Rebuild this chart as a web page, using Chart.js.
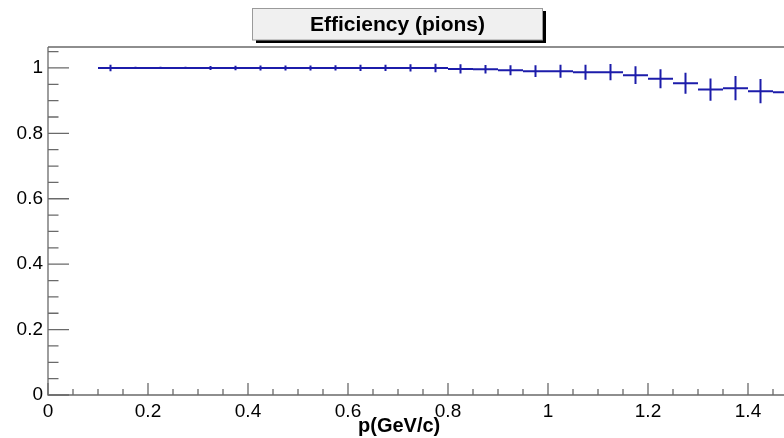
<!DOCTYPE html>
<html>
<head>
<meta charset="utf-8">
<script src="https://cdn.jsdelivr.net/npm/chart.js@4"></script>
<style>
  html, body { margin: 0; padding: 0; background: #fff; }
  #wrap { width: 784px; height: 438px; }
</style>
</head>
<body>
<div id="wrap"><canvas id="chart" width="784" height="438"></canvas></div>
<script>
// momentum bin centres (GeV/c), bins are 0.05 wide
const binCenters = [0.125, 0.175, 0.225, 0.275, 0.325, 0.375, 0.425, 0.475, 0.525, 0.575,
  0.625, 0.675, 0.725, 0.775, 0.825, 0.875, 0.925, 0.975, 1.025, 1.075,
  1.125, 1.175, 1.225, 1.275, 1.325, 1.375, 1.425, 1.475];
const binHalfWidth = 0.025;

// efficiency per bin and its error
const efficiency = [1.0, 1.0, 1.0, 1.0, 1.0, 1.0, 1.0, 1.0, 1.0, 1.0,
  1.0, 1.0, 1.0, 1.0, 0.997, 0.996, 0.993, 0.990, 0.990, 0.987,
  0.987, 0.978, 0.967, 0.953, 0.934, 0.938, 0.929, 0.926];
const efficiencyErr = [0.010, 0.0035, 0.0035, 0.0035, 0.006, 0.007, 0.0076, 0.0078, 0.0076, 0.008,
  0.0095, 0.0095, 0.011, 0.013, 0.014, 0.013, 0.015, 0.018, 0.020, 0.023,
  0.025, 0.027, 0.029, 0.032, 0.034, 0.037, 0.037, 0.040];

const xTicks = [0, 0.2, 0.4, 0.6, 0.8, 1, 1.2, 1.4];
const xTickLabels = ["0", "0.2", "0.4", "0.6", "0.8", "1", "1.2", "1.4"];
const yTicks = [0, 0.2, 0.4, 0.6, 0.8, 1];
const yTickLabels = ["0", "0.2", "0.4", "0.6", "0.8", "1"];

const titleText = "Efficiency (pions)";
const xTitleText = "p(GeV/c)";

const lineColor = "#1c1caa";
const axisColor = "#6a6a6a";

// build cross segments (x error = bin width, y error = stat error)
const crossPoints = [];
binCenters.forEach((c, i) => {
  const v = efficiency[i];
  const e = efficiencyErr[i];
  crossPoints.push({ x: c - binHalfWidth, y: v }, { x: c + binHalfWidth, y: v }, { x: c, y: null });
  crossPoints.push({ x: c, y: v - e }, { x: c, y: v + e }, { x: c, y: null });
});

function keepTicks(list) {
  return function (scale) {
    scale.ticks = list.map((v) => ({ value: v }));
  };
}

const rootFrame = {
  id: "rootFrame",
  afterDraw(chart) {
    const ctx = chart.ctx;
    const area = chart.chartArea;
    const xs = chart.scales.x;
    const ys = chart.scales.y;
    ctx.save();
    ctx.strokeStyle = axisColor;
    ctx.lineWidth = 1.3;

    // frame: top line, left and bottom axes
    ctx.beginPath();
    ctx.moveTo(area.left, area.top);
    ctx.lineTo(area.right, area.top);
    ctx.moveTo(area.left, area.top);
    ctx.lineTo(area.left, area.bottom);
    ctx.lineTo(area.right, area.bottom);
    ctx.stroke();

    // y ticks (major 0.2, minor 0.05)
    ctx.beginPath();
    for (let k = 0; k <= 21; k++) {
      const py = ys.getPixelForValue(k * 0.05);
      const len = k % 4 === 0 ? 21 : 10.5;
      ctx.moveTo(area.left, py);
      ctx.lineTo(area.left + len, py);
    }
    // x ticks
    for (let k = 0; k <= 29; k++) {
      const px = xs.getPixelForValue(k * 0.05);
      if (px > area.right) break;
      const len = k % 4 === 0 ? 12 : 6;
      ctx.moveTo(px, area.bottom);
      ctx.lineTo(px, area.bottom - len);
    }
    ctx.stroke();

    // title box with shadow
    ctx.fillStyle = "#000";
    ctx.fillRect(256, 11, 290, 32);
    ctx.fillStyle = "#f0f0f0";
    ctx.fillRect(252.5, 8.5, 290, 31.5);
    ctx.strokeStyle = "#9a9a9a";
    ctx.lineWidth = 1;
    ctx.strokeRect(252.5, 8.5, 290, 31.5);
    ctx.fillStyle = "#000";
    ctx.font = "bold 21px 'Liberation Sans', Arial, sans-serif";
    ctx.textAlign = "center";
    ctx.textBaseline = "alphabetic";
    ctx.fillText(titleText, 397.5, 30.5);

    // x axis title
    ctx.font = "bold 20px 'Liberation Sans', Arial, sans-serif";
    ctx.textAlign = "left";
    ctx.fillText(xTitleText, 358, 432);
    ctx.restore();
  },
};

new Chart(document.getElementById("chart"), {
  type: "line",
  data: {
    datasets: [
      {
        label: "efficiency",
        data: crossPoints,
        borderColor: lineColor,
        borderWidth: 2,
        pointRadius: 0,
        spanGaps: false,
        tension: 0,
      },
    ],
  },
  options: {
    responsive: false,
    animation: false,
    devicePixelRatio: 1,
    layout: { padding: { top: 47, left: 0, right: 0, bottom: 0 } },
    plugins: {
      legend: { display: false },
      title: { display: false },
      tooltip: { enabled: false },
    },
    scales: {
      x: {
        type: "linear",
        min: 0,
        max: 1.472,
        afterBuildTicks: keepTicks(xTicks),
        afterFit(scale) { scale.height = 43; },
        grid: { display: false, drawTicks: false },
        border: { display: false },
        ticks: {
          color: "#000",
          padding: 5,
          maxRotation: 0,
          autoSkip: false,
          font: { family: "'Liberation Sans', Arial, sans-serif", size: 19 },
          callback: (v, i) => xTickLabels[i],
        },
      },
      y: {
        type: "linear",
        min: 0,
        max: 1.064,
        afterBuildTicks: keepTicks(yTicks),
        afterFit(scale) { scale.width = 48; },
        grid: { display: false, drawTicks: false },
        border: { display: false },
        ticks: {
          color: "#000",
          padding: 5,
          autoSkip: false,
          font: { family: "'Liberation Sans', Arial, sans-serif", size: 19 },
          callback: (v, i) => yTickLabels[i],
        },
      },
    },
  },
  plugins: [rootFrame],
});
</script>
</body>
</html>
